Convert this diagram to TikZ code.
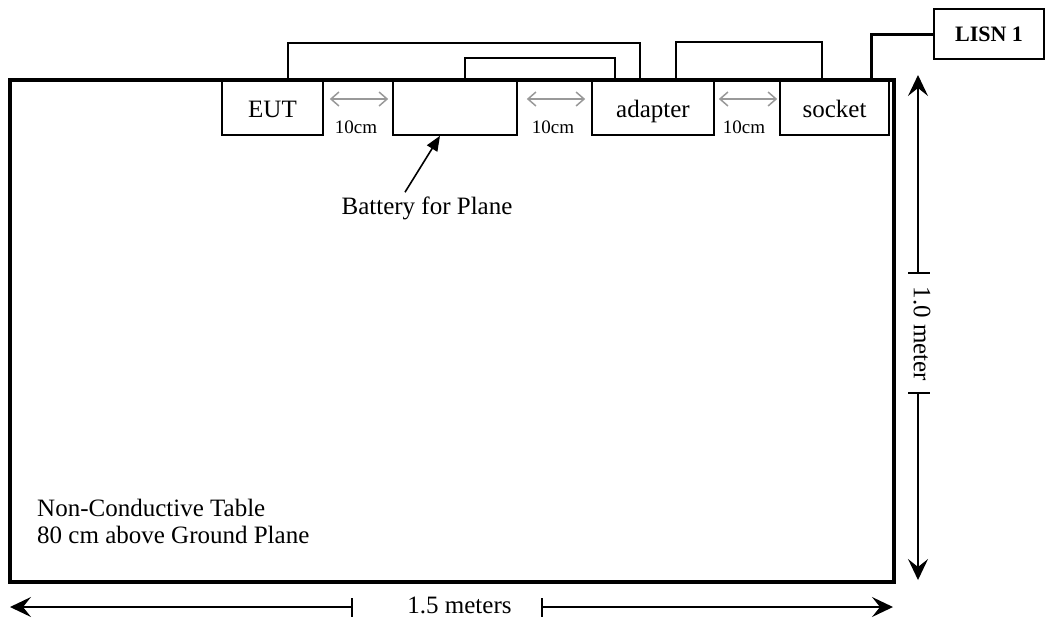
\documentclass[tikz,border=0pt]{standalone}
\usepackage{fontspec}
\setmainfont{Liberation Serif}
\usetikzlibrary{arrows.meta,calc}
\begin{document}
\begin{tikzpicture}[x=1pt,y=-1pt,
  lbl/.style={font=\fontsize{25}{27}\selectfont, inner sep=0pt},
  devbox/.style={draw, line width=1.6pt, rectangle, minimum height=55pt, inner sep=0pt,
    font=\fontsize{25}{27}\selectfont, text height=22pt, text depth=3pt},
  lisnbox/.style={draw, line width=1.6pt, rectangle, minimum width=110pt, minimum height=50pt,
    inner sep=0pt, font=\fontsize{22}{24}\selectfont\bfseries},
  tablebox/.style={draw, line width=3.5pt, rectangle, minimum width=884pt, minimum height=502pt, inner sep=0pt},
  wire/.style={line width=1.8pt},
  thickwire/.style={line width=3pt},
  gaparrow/.style={draw=black!40, line width=1.5pt,
    {Straight Barb[length=8pt,width=14pt]}-{Straight Barb[length=8pt,width=14pt]}},
  small/.style={font=\fontsize{19}{21}\selectfont, inner sep=0pt, anchor=base},
  dimline/.style={line width=1.4pt},
  dimtip/.style={-{Stealth[length=21pt,width=20pt,inset=8pt]}},
]
\useasboundingbox (0,0) rectangle (1046,622);

% table
\node[tablebox] (table) at (452,331) {};

% devices
\node[devbox, minimum width=101pt] (eut) at (272.5,107.5) {EUT};
\node[devbox, minimum width=124pt] (battery) at (455,107.5) {};
\node[devbox, minimum width=122pt] (adapter) at (653,107.5) {adapter};
\node[devbox, minimum width=109pt] (socket) at (834.5,107.5) {socket};
\node[lisnbox] (lisn) at (989,34) {LISN 1};

% wires
\draw[wire] ($(eut.north west)+(67,0)$) -- ++(0,-36) -| ($(adapter.north west)+(49,0)$);
\draw[wire] ($(battery.north west)+(73,0)$) -- ++(0,-21) -| ($(adapter.north west)+(24,0)$);
\draw[wire] ($(adapter.north west)+(85,0)$) -- ++(0,-37) -| ($(socket.north west)+(43,0)$);
\draw[thickwire] ($(socket.north west)+(92,0)$) |- (lisn.west);

% 10cm gaps
\draw[gaparrow] ($(eut.east)+(6,-8.5)$) -- ($(battery.west)+(-4,-8.5)$);
\draw[gaparrow] ($(battery.east)+(9,-8.5)$) -- ($(adapter.west)+(-6,-8.5)$);
\draw[gaparrow] ($(adapter.east)+(4,-8.5)$) -- ($(socket.west)+(-2,-8.5)$);
\node[small] (g1) at (356,133) {10cm};
\node[small] (g2) at (553,133) {10cm};
\node[small] (g3) at (744,133) {10cm};

% battery label
\node[lbl, anchor=base] (batlabel) at (427,214) {Battery for Plane};
\draw[line width=1.6pt, -{Triangle[length=15pt,width=12pt]}]
  ($(batlabel.north)+(-22,-4)$) -- ($(battery.south)+(-15,0)$);

% table text
\node[lbl, anchor=base west] (t1) at (37,516) {Non-Conductive Table};
\node[lbl, anchor=base west] (t2) at (37,543) {80 cm above Ground Plane};

% horizontal dimension
\coordinate (hL) at (10,607);
\coordinate (hR) at (893,607);
\coordinate (hA) at (352,607);
\coordinate (hB) at (542,607);
\draw[dimline, dimtip] (hA) -- (hL);
\draw[dimline, dimtip] (hB) -- (hR);
\draw[dimline] ($(hA)+(0,-9)$) -- ($(hA)+(0,10)$);
\draw[dimline] ($(hB)+(0,-9)$) -- ($(hB)+(0,10)$);
\node[lbl, anchor=base] (hlabel) at (459.5,613) {1.5 meters};

% vertical dimension
\coordinate (vT) at (918,75);
\coordinate (vB) at (918,580);
\coordinate (vA) at (918,273);
\coordinate (vC) at (918,393);
\draw[dimline, dimtip] (vA) -- (vT);
\draw[dimline, dimtip] (vC) -- (vB);
\draw[dimline] ($(vA)+(-10,0)$) -- ($(vA)+(12,0)$);
\draw[dimline] ($(vC)+(-10,0)$) -- ($(vC)+(12,0)$);
\node[lbl, rotate=-90] (vlabel) at (922,334) {1.0 meter};
\end{tikzpicture}
\end{document}
